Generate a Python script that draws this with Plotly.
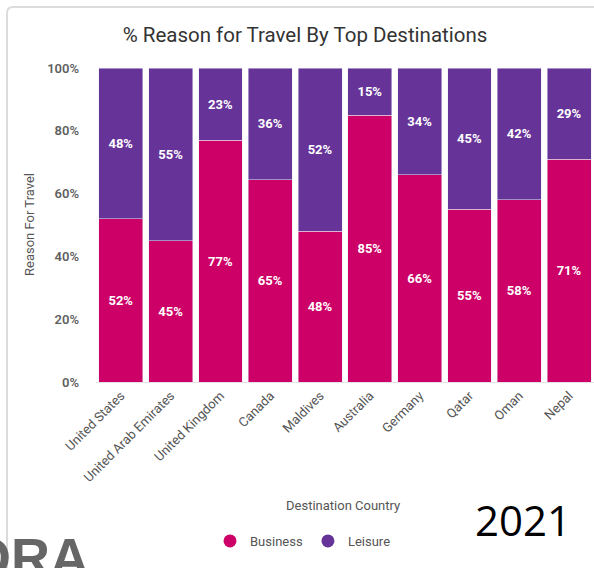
import plotly.graph_objects as go

countries = ["United States", "United Arab Emirates", "United Kingdom", "Canada", "Maldives",
             "Australia", "Germany", "Qatar", "Oman", "Nepal"]
business = [52, 45, 77, 65, 48, 85, 66, 55, 58, 71]
leisure = [48, 55, 23, 36, 52, 15, 34, 45, 42, 29]
y_tick_vals = [0, 20, 40, 60, 80, 100]
y_tick_text = ["0%", "20%", "40%", "60%", "80%", "100%"]

BUS_C = "#CC0066"
LEI_C = "#663399"

W, H = 594, 568
L, R, T, B = 96, 0, 68, 186
PW, PH = W - L - R, H - T - B


def px(x):
    return (x - L) / PW


def py(y):
    return (H - B - y) / PH


lab_font = dict(family="Roboto", size=13, color="white", weight=700)

fig = go.Figure()
fig.add_trace(go.Bar(x=countries, y=business, name="Business", marker_color=BUS_C,
                     text=[f"{v}%" for v in business], textposition="inside",
                     insidetextanchor="middle", textangle=0, textfont=lab_font,
                     showlegend=False, hoverinfo="skip"))
fig.add_trace(go.Bar(x=countries, y=leisure, name="Leisure", marker_color=LEI_C,
                     text=[f"{v}%" for v in leisure], textposition="inside",
                     insidetextanchor="middle", textangle=0, textfont=lab_font,
                     showlegend=False, hoverinfo="skip"))
# legend entries with circle symbols
fig.add_trace(go.Scatter(x=[None], y=[None], mode="markers", name="Business",
                         marker=dict(color=BUS_C, size=13, symbol="circle")))
fig.add_trace(go.Scatter(x=[None], y=[None], mode="markers", name="Leisure",
                         marker=dict(color=LEI_C, size=13, symbol="circle")))

# card border with rounded corner
x0, yt = px(7), py(7)
rx, ry = 6 / PW, 6 / PH
card_path = (f"M {x0},{py(600)} L {x0},{yt - ry} Q {x0},{yt} {x0 + rx},{yt} "
             f"L {px(620)},{yt}")

fig.update_layout(
    width=W, height=H,
    margin=dict(l=L, r=R, t=T, b=B, autoexpand=False),
    paper_bgcolor="white", plot_bgcolor="white",
    barmode="stack", barnorm="percent", bargap=0.12,
    font=dict(family="Roboto", color="#555555"),
    title=dict(text="% Reason for Travel By Top Destinations", xref="container",
               x=305 / W, xanchor="center",
               y=1 - 35 / H, yanchor="middle",
               font=dict(family="Roboto", size=20.5, color="#333333")),
    xaxis=dict(tickangle=-45, tickfont=dict(size=13, color="#555555"),
               showline=True, linecolor="#e3e3e3", linewidth=1, showgrid=False,
               ticks=""),
    yaxis=dict(range=[0, 100], tickvals=y_tick_vals, ticktext=y_tick_text,
               showgrid=False, zeroline=False, showline=False,
               ticklabelstandoff=16,
               tickfont=dict(size=13, color="#5f5f5f", weight=600)),
    legend=dict(orientation="h", traceorder="normal", x=px(303), xanchor="center",
                y=py(541), yanchor="middle",
                font=dict(size=13, color="#555555"), itemwidth=30),
    shapes=[dict(type="path", xref="paper", yref="paper", path=card_path,
                 line=dict(color="#dcdcdc", width=2), layer="below")],
    annotations=[
        dict(text="Reason For Travel", xref="paper", yref="paper", x=px(29), y=py(225),
             xanchor="center", yanchor="middle",
             textangle=-90, showarrow=False, font=dict(size=13, color="#555555")),
        dict(text="Destination Country", xref="paper", yref="paper", x=px(343), y=py(505),
             xanchor="center", yanchor="middle",
             showarrow=False, font=dict(size=13, color="#555555")),
        dict(text="2021", xref="paper", yref="paper", x=px(523), xanchor="center",
             y=py(519), yanchor="middle",
             showarrow=False, font=dict(family="Open Sans", size=42, color="#000000")),
        dict(text="<b>ORA</b>", xref="paper", yref="paper", x=px(91), y=py(557),
             xanchor="right", yanchor="middle", showarrow=False,
             font=dict(family="Liberation Sans", size=54, color="#666666")),
    ],
)

fig.write_html("out.html", config={"displayModeBar": False},
               post_script="document.body.style.margin='0px';")
